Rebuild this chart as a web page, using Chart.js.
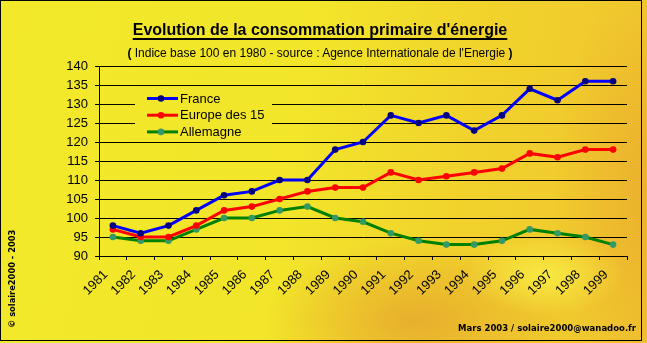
<!DOCTYPE html>
<html>
<head>
<meta charset="utf-8">
<script src="https://cdn.jsdelivr.net/npm/chart.js@4.4.1/dist/chart.umd.min.js"></script>
<style>
  html, body { margin: 0; padding: 0; }
  body {
    width: 647px; height: 343px; position: relative; overflow: hidden;
    font-family: "Liberation Sans", Arial, sans-serif;
    background:
      radial-gradient(ellipse 80px 40px at 545px 275px, rgba(250,238,70,0.85), rgba(250,238,70,0) 100%),
      radial-gradient(ellipse 150px 80px at 415px 320px, rgba(230,165,45,0.8), rgba(230,165,45,0) 100%),
      radial-gradient(ellipse 100px 210px at 655px 185px, rgba(234,165,45,0.7), rgba(234,165,45,0) 100%),
      linear-gradient(100deg, #f3e92a 0%, #f2e52a 46%, #f1d22c 70%, #efc42e 100%);
  }
  #frame { position: absolute; left: 0; top: 0; width: 642px; height: 341px; border: 1px solid #000; box-sizing: border-box; pointer-events: none; }
  #title { position: absolute; left: 0; width: 640px; top: 22px; text-align: center; font-size: 16px; line-height: 16px; font-weight: bold; }
  #title span { text-decoration: underline; text-decoration-thickness: 2px; text-underline-offset: 3px; }
  #subtitle { position: absolute; left: 0; width: 640px; top: 47px; text-align: center; font-size: 12px; line-height: 12px; }
  #subtitle b { font-weight: bold; }
  #credit { position: absolute; right: 11px; top: 324px; font-family: "DejaVu Sans", sans-serif; font-weight: bold; font-size: 8.5px; line-height: 9px; }
  #copy { position: absolute; left: 8px; top: 328px; transform-origin: 0 0; transform: rotate(-90deg); font-family: "DejaVu Sans", sans-serif; font-weight: bold; font-size: 8.3px; line-height: 9px; white-space: nowrap; }
  canvas { position: absolute; left: 0; top: 0; }
</style>
</head>
<body>
<canvas id="chart" width="647" height="343"></canvas>
<div id="title"><span>Evolution de la consommation primaire d'énergie</span></div>
<div id="subtitle"><b>(</b> Indice base 100 en 1980 - source : Agence Internationale de l'Energie <b>)</b></div>
<div id="copy">© solaire2000 - 2003</div>
<div id="credit">Mars 2003 / solaire2000@wanadoo.fr</div>
<div id="frame"></div>
<script>
// indices, base 100 en 1980
const YEARS = ['1981','1982','1983','1984','1985','1986','1987','1988','1989','1990',
               '1991','1992','1993','1994','1995','1996','1997','1998','1999'];
const FRANCE    = [98, 96, 98, 102, 106, 107, 110, 110, 118, 120, 127, 125, 127, 123, 127, 134, 131, 136, 136];
const EUROPE    = [97, 95, 95, 98, 102, 103, 105, 107, 108, 108, 112, 110, 111, 112, 113, 117, 116, 118, 118];
const ALLEMAGNE = [95, 94, 94, 97, 100, 100, 102, 103, 100, 99, 96, 94, 93, 93, 94, 97, 96, 95, 93];

const Y_MIN = 90, Y_MAX = 140, Y_STEP = 5;

const series = [
  { label: 'France',        data: FRANCE,    line: '#0000ff', dot: '#000080' },
  { label: 'Europe des 15', data: EUROPE,    line: '#ff0000', dot: '#ff0000' },
  { label: 'Allemagne',     data: ALLEMAGNE, line: '#008000', dot: '#339966' },
];

// legend sits inside the plot, over the gridlines (wipes them out like the old Excel box)
const insideLegend = {
  id: 'insideLegend',
  beforeDatasetsDraw(chart) {
    const { ctx, chartArea } = chart;
    const x0 = chartArea.left + 36, y0 = chartArea.top + 21;
    ctx.save();
    ctx.clearRect(x0, y0, 137, 51);
    chart.data.datasets.forEach((ds, i) => {
      const y = y0 + 11.5 + i * 16.7;
      ctx.strokeStyle = ds.borderColor;
      ctx.lineWidth = 3;
      ctx.beginPath();
      ctx.moveTo(x0 + 12, y);
      ctx.lineTo(x0 + 43, y);
      ctx.stroke();
      ctx.fillStyle = ds.pointBackgroundColor;
      ctx.beginPath();
      ctx.arc(x0 + 26, y, 3.3, 0, Math.PI * 2);
      ctx.fill();
      ctx.fillStyle = '#000';
      ctx.font = '13px "Liberation Sans", Arial, sans-serif';
      ctx.textBaseline = 'middle';
      ctx.fillText(ds.label, x0 + 45, y + 0.5);
    });
    ctx.restore();
  }
};

new Chart(document.getElementById('chart'), {
  type: 'line',
  data: {
    labels: YEARS,
    datasets: series.map(s => ({
      label: s.label,
      data: s.data,
      borderColor: s.line,
      backgroundColor: s.line,
      borderWidth: 3,
      pointRadius: 3.3,
      pointBorderWidth: 0,
      pointBackgroundColor: s.dot,
      pointBorderColor: s.dot,
      tension: 0,
    })),
  },
  options: {
    responsive: false,
    animation: false,
    devicePixelRatio: 1,
    layout: { padding: { left: 0, right: 20, top: 66, bottom: 0 } },
    plugins: { legend: { display: false }, title: { display: false }, tooltip: { enabled: false } },
    scales: {
      x: {
        type: 'category',
        offset: true,
        afterFit: (s) => { s.height = 87; s.paddingLeft = 0; s.paddingRight = 0; },
        grid: { offset: true, drawOnChartArea: false, drawTicks: true, tickLength: 4, color: '#000', lineWidth: 1 },
        border: { color: '#000', width: 1 },
        ticks: {
          autoSkip: false, minRotation: 45, maxRotation: 45,
          color: '#000', font: { size: 13, family: '"Liberation Sans", Arial, sans-serif' },
          padding: 7, labelOffset: -7,
        },
      },
      y: {
        min: Y_MIN, max: Y_MAX,
        afterFit: (s) => { s.width = 99; },
        grid: { color: '#000', lineWidth: 1, tickLength: 4 },
        border: { color: '#000', width: 1 },
        ticks: {
          stepSize: Y_STEP, color: '#000', padding: 7,
          font: { size: 13, family: '"Liberation Sans", Arial, sans-serif' },
        },
      },
    },
  },
  plugins: [insideLegend],
});
</script>
</body>
</html>
